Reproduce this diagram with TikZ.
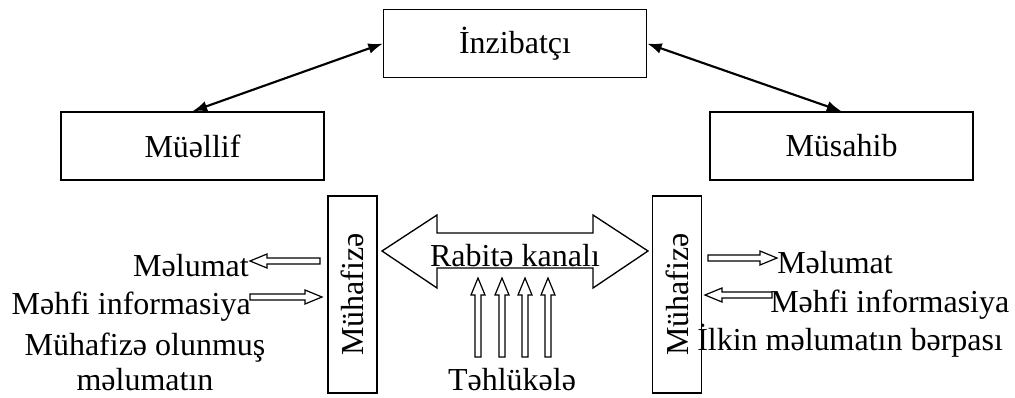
\documentclass[tikz,border=0pt]{standalone}
\usepackage{fontspec}
\setmainfont{Liberation Serif}
\usetikzlibrary{arrows.meta}

\begin{document}
\begin{tikzpicture}[x=0.75pt,y=-0.75pt,
    every node/.style={font=\fontsize{24pt}{28pt}\selectfont, inner sep=0pt},
    box/.style={draw, line width=1.1pt, minimum width=197pt, minimum height=51pt},
    guard/.style={draw, line width=1.1pt, rotate=90, minimum width=148pt, minimum height=37pt},
    link/.style={line width=1.6pt, {Latex[length=11pt,width=8pt]}-{Latex[length=11pt,width=8pt]}},
    harrow/.pic={\draw[line width=0.9pt] (0,-3) -- (#1-17,-3) -- (#1-17,-7) -- (#1,0)
                 -- (#1-17,7) -- (#1-17,3) -- (0,3) -- cycle;}]
  \useasboundingbox (0,0) rectangle (1015,397);

  % roles
  \node[box] (adm) at (515,43.5) {İnzibatçı};
  \node[box] (aut) at (192.5,146) {Müəllif};
  \node[box] (itv) at (841.5,146) {Müsahib};

  \draw[link] (adm.west) -- (aut.north);
  \draw[link] (adm.east) -- (itv.north);

  % protection blocks
  \node[guard] (gl) at (352.5,294.5) {Mühafizə};
  \node[guard] (gr) at (677,294.5) {Mühafizə};

  % channel
  \draw[line width=1pt] (382,251) -- (437,215) -- (437,233) -- (593,233) -- (593,215)
    -- (648,251) -- (593,288) -- (593,268) -- (437,268) -- (437,288) -- cycle;
  \node[anchor=base] (chan) at (515,266) {Rabitə kanalı};

  % threats
  \foreach \x in {478,502,525,548}
  {
    \pic[rotate=90] at (\x,357) {harrow=79};
  }
  \node[anchor=base] (thr) at (512,390) {Təhlükələ};

  % left side
  \node[anchor=base east] (lout) at (249,276) {Məlumat};
  \node[anchor=base east] (lin) at (251,314) {Məhfi informasiya};
  \node[align=center, anchor=north, font=\fontsize{24pt}{26pt}\selectfont] (lprot) at (145,333)
    {Mühafizə olunmuş\\məlumatın};
  \pic[rotate=180] at (320,261) {harrow=70};
  \pic at (250,297) {harrow=72};

  % right side
  \node[anchor=base west] (rout) at (777,273) {Məlumat};
  \node[anchor=base west] (rin) at (770,312) {Məhfi informasiya};
  \node[anchor=base west] (rrest) at (697,350) {İlkin məlumatın bərpası};
  \pic at (708,258) {harrow=69};
  \pic[rotate=180] at (772,295) {harrow=67};
\end{tikzpicture}
\end{document}
